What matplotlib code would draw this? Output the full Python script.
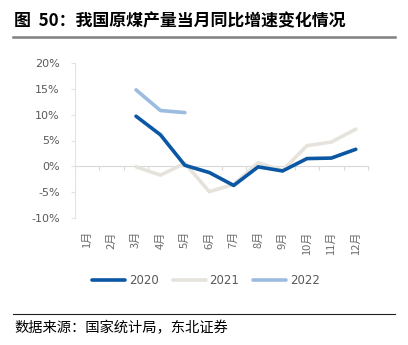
import matplotlib
matplotlib.use("Agg")
import matplotlib.pyplot as plt
import numpy as np

months = ["1月", "2月", "3月", "4月", "5月", "6月", "7月", "8月", "9月", "10月", "11月", "12月"]
s2020 = [None, None, 9.7, 6.1, 0.2, -1.2, -3.7, -0.1, -0.9, 1.5, 1.6, 3.3]
s2021 = [None, None, -0.1, -1.7, 0.6, -4.9, -3.5, 0.7, -0.8, 4.0, 4.7, 7.2]
s2022 = [None, None, 14.8, 10.8, 10.4, None, None, None, None, None, None, None]
series_names = ["2020", "2021", "2022"]
colors = ["#0B57A4", "#E6E3DC", "#9BBBE0"]
yticks = [-10, -5, 0, 5, 10, 15, 20]

cjk = ["Noto Sans CJK SC", "DejaVu Sans"]
plt.rcParams['font.family'] = cjk

W, H = 408, 345
fig = plt.figure(figsize=(W / 100, H / 100), dpi=100)
ax = fig.add_axes([75 / W, 1 - 218 / H, (368 - 75) / W, (218 - 63) / H])

x = np.arange(1, 13)
def arr(v):
    return np.array([np.nan if a is None else a for a in v], dtype=float)

order = [1, 0, 2]
datas = [s2020, s2021, s2022]
lines = {}
for i in order:
    ln, = ax.plot(x, arr(datas[i]), color=colors[i], lw=2.6, label=series_names[i],
                  solid_capstyle='round', solid_joinstyle='round', zorder=3 + (i == 0))
    lines[i] = ln

ax.set_xlim(0.5, 12.5)
ax.set_ylim(-10, 20)
ax.set_yticks(yticks)
ax.set_yticklabels([f"{v}%" for v in yticks])

for s in ["top", "right"]:
    ax.spines[s].set_visible(False)
ax.spines["left"].set_color("#E3E3E3")
ax.spines["left"].set_linewidth(0.8)
ax.spines["bottom"].set_position(("data", 0))
ax.spines["bottom"].set_color("#D9D9D9")
ax.spines["bottom"].set_linewidth(0.8)
ax.spines["bottom"].set_zorder(1)

ax.set_xticks(np.arange(0.5, 13.0, 1.0))
ax.set_xticklabels([])
ax.tick_params(axis="x", length=3, color="#D9D9D9", width=0.8, direction="out")
ax.tick_params(axis="y", length=3, color="#E3E3E3", width=0.8, labelsize=8,
               labelcolor="#595959", pad=8)
for lab in ax.get_yticklabels():
    lab.set_family(["DejaVu Sans"])

trans = matplotlib.transforms.blended_transform_factory(ax.transData, ax.transAxes)
for xi, m in zip(x, months):
    ax.text(xi, -0.085, m, rotation=90, ha="center", va="top", transform=trans,
            fontsize=8, color="#6A6A6A", family=cjk, fontweight="light")

leg = fig.legend([lines[0], lines[1], lines[2]], series_names, loc="center",
                 bbox_to_anchor=(206 / W, 1 - 281 / H), ncol=3, frameon=False,
                 handlelength=2.8, handletextpad=0.3, columnspacing=1.2,
                 prop={"family": ["DejaVu Sans"], "size": 8.5})
for t in leg.get_texts():
    t.set_color("#595959")

fig.text(14 / W, 1 - 21 / H, "图  50：我国原煤产量当月同比增速变化情况", ha="left", va="center",
         fontsize=12.2, fontweight="bold", color="#000000", family=cjk)
fig.add_artist(plt.Line2D([13 / W, 395 / W], [1 - 37 / H, 1 - 37 / H], color="#808080", lw=1.8))
fig.add_artist(plt.Line2D([13 / W, 395 / W], [1 - 314 / H, 1 - 314 / H], color="#202020", lw=0.8))
fig.text(14 / W, 1 - 328 / H, "数据来源：国家统计局，东北证券", ha="left", va="center",
         fontsize=10.3, color="#000000", family=cjk)

fig.savefig("out.png", dpi=100)
